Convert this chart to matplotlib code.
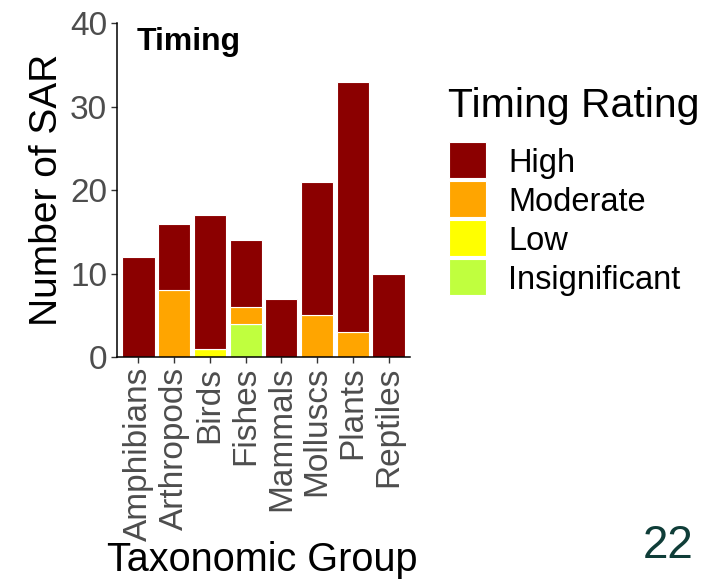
import numpy as np
import matplotlib.pyplot as plt
from matplotlib.patches import Rectangle

plt.rcParams['font.family'] = ['Liberation Sans', 'DejaVu Sans']

groups = ["Amphibians", "Arthropods", "Birds", "Fishes", "Mammals", "Molluscs", "Plants", "Reptiles"]
ratings = ["Insignificant", "Low", "Moderate", "High"]
insignificant = [0, 0, 0, 4, 0, 0, 0, 0]
low = [0, 0, 1, 0, 0, 0, 0, 0]
moderate = [0, 8, 0, 2, 0, 5, 3, 0]
high = [12, 8, 16, 8, 7, 16, 30, 10]
colors = {"High": "#8B0000", "Moderate": "#FFA500", "Low": "#FFFF00", "Insignificant": "#C0FF3E"}
yticks = [0, 10, 20, 30, 40]

counts = {"Insignificant": insignificant, "Low": low, "Moderate": moderate, "High": high}

W, H = 705, 580
fig = plt.figure(figsize=(W / 100, H / 100), dpi=100)
ax = fig.add_axes([117 / W, 1 - 357 / H, (410 - 117) / W, (357 - 23.3) / H])

x = np.arange(len(groups))
bottom = np.zeros(len(groups))
for r in ratings:
    vals = np.array(counts[r], dtype=float)
    ax.bar(x, vals, bottom=bottom, width=0.9, color=colors[r], edgecolor="white", linewidth=0.8)
    bottom += vals

ax.set_xlim(-0.6, 7.6)
ax.set_ylim(0, 40)
ax.set_yticks(yticks)
ax.set_xticks(x)
ax.set_xticklabels(groups, rotation=90, ha="center", va="top")
ax.tick_params(axis="both", labelsize=24, labelcolor="#4D4D4D", color="#333333", length=4, width=1, pad=3)
for s in ["top", "right"]:
    ax.spines[s].set_visible(False)
for s in ["left", "bottom"]:
    ax.spines[s].set_linewidth(1.1)
    ax.spines[s].set_color("black")

ax.set_ylabel("Number of SAR", fontsize=28, labelpad=4)
ax.set_xlabel("Taxonomic Group", fontsize=28.5, va="baseline")
ax.xaxis.set_label_coords(262 / W, 1 - 571 / H, transform=fig.transFigure)

fig.text(137 / W, 1 - 50 / H, "Timing", fontsize=23, fontweight="bold", va="baseline")

# legend drawn by hand, High on top
fig.text(448 / W, 1 - 117 / H, "Timing Rating", fontsize=29.5, va="baseline")
for i, r in enumerate(ratings[::-1]):
    top = 142 + i * 39
    fig.add_artist(Rectangle((449 / W, 1 - (top + 36) / H), 37 / W, 36 / H,
                             facecolor=colors[r], edgecolor="white", linewidth=0.8,
                             transform=fig.transFigure))
    fig.text(508 / W, 1 - (top + 18) / H, r, fontsize=23.5, va="center_baseline")

fig.text(668 / W, 1 - 558 / H, "22", fontsize=33, color="#0F3D38", ha="center", va="baseline",
         fontstretch="condensed")

fig.savefig("out.png", dpi=100)
